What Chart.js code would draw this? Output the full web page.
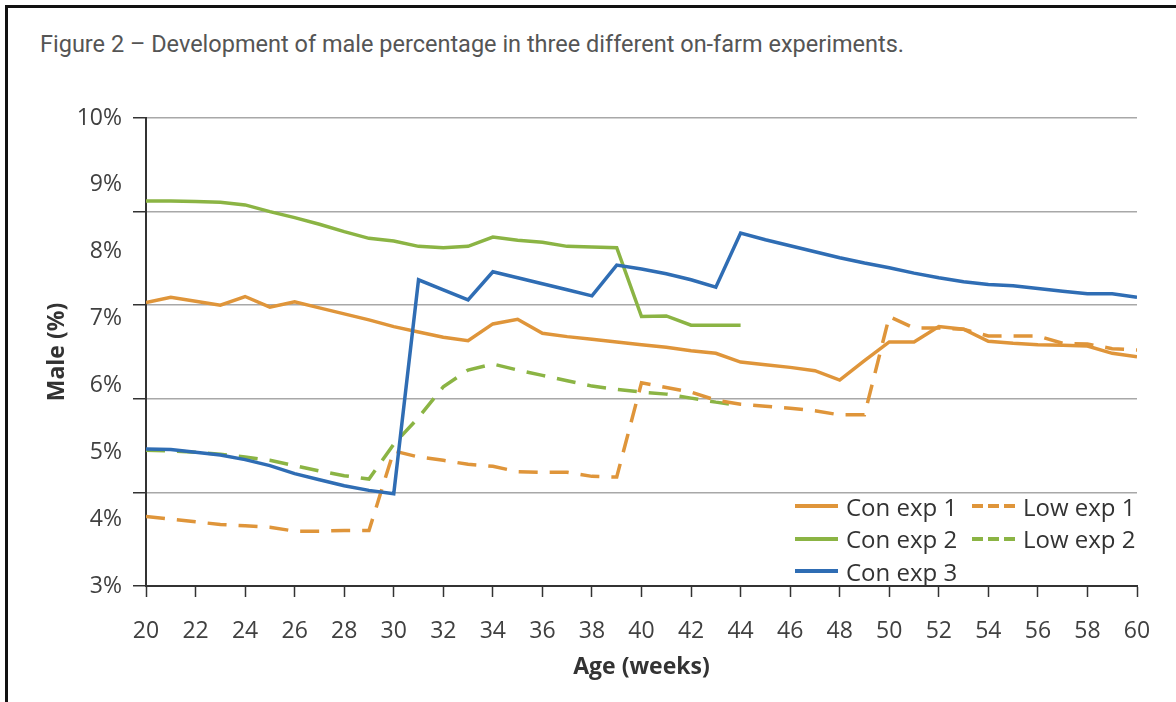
<!DOCTYPE html>
<html>
<head>
<meta charset="utf-8">
<title>Male percentage</title>
<script src="https://cdn.jsdelivr.net/npm/chart.js@4.4.1/dist/chart.umd.min.js"></script>
<style>
  html, body { margin: 0; padding: 0; background: #fff; }
  body { width: 1176px; height: 702px; position: relative; overflow: hidden; }
  #frame { position: absolute; left: 5px; top: 5px; width: 1200px; height: 760px;
           border-left: 3px solid #111; border-top: 3px solid #111; }
  #caption { position: absolute; left: 40px; top: 30px; font-family: Roboto, sans-serif;
             font-size: 23.5px; color: #555; white-space: nowrap; }
  #chart { position: absolute; left: 0; top: 0; }
  #legend { position: absolute; left: 795px; top: 490px; display: grid;
            grid-template-columns: 177px auto; font-family: 'Open Sans', sans-serif;
            font-size: 24px; color: #333; }
  .item { display: flex; align-items: center; height: 32.5px; white-space: nowrap; }
  .item svg { margin-right: 8px; }
</style>
</head>
<body>
<div id="frame"></div>
<div id="caption">Figure 2 – Development of male percentage in three different on-farm experiments.</div>
<canvas id="chart" width="1176" height="702"></canvas>
<div id="legend"></div>
<script>
// age in weeks
const weeks = [20, 21, 22, 23, 24, 25, 26, 27, 28, 29, 30, 31, 32, 33, 34, 35, 36, 37, 38, 39, 40,
  41, 42, 43, 44, 45, 46, 47, 48, 49, 50, 51, 52, 53, 54, 55, 56, 57, 58, 59, 60];

// male % per week (experiment 2 stops at week 44)
const conExp1 = [7.24, 7.32, 7.26, 7.20, 7.33, 7.17, 7.25, 7.16, 7.07, 6.98, 6.88, 6.80, 6.72, 6.67,
  6.92, 6.99, 6.78, 6.73, 6.69, 6.65, 6.61, 6.57, 6.52, 6.48, 6.35, 6.31, 6.27, 6.22, 6.08, 6.37,
  6.65, 6.65, 6.88, 6.84, 6.66, 6.63, 6.61, 6.60, 6.59, 6.48, 6.43];
const lowExp1 = [4.04, 4.00, 3.96, 3.92, 3.90, 3.88, 3.82, 3.82, 3.83, 3.83, 5.02, 4.93, 4.88, 4.82,
  4.79, 4.71, 4.70, 4.70, 4.64, 4.63, 6.04, 5.97, 5.90, 5.78, 5.72, 5.69, 5.66, 5.62, 5.56, 5.56,
  7.03, 6.86, 6.86, 6.84, 6.74, 6.74, 6.74, 6.63, 6.62, 6.55, 6.53];
const conExp2 = [8.76, 8.76, 8.75, 8.74, 8.70, 8.60, 8.51, 8.41, 8.30, 8.20, 8.16, 8.08, 8.06, 8.08,
  8.22, 8.17, 8.14, 8.08, 8.07, 8.06, 7.03, 7.04, 6.90, 6.90, 6.90];
const lowExp2 = [5.03, 5.02, 5.00, 4.97, 4.93, 4.88, 4.80, 4.72, 4.65, 4.60, 5.12, 5.52, 5.98, 6.23,
  6.32, 6.23, 6.15, 6.07, 5.99, 5.94, 5.90, 5.87, 5.81, 5.75, 5.70];
const conExp3 = [5.05, 5.04, 5.00, 4.96, 4.89, 4.80, 4.68, 4.59, 4.50, 4.43, 4.38, 7.58, 7.43, 7.28,
  7.70, 7.61, 7.52, 7.43, 7.34, 7.80, 7.74, 7.67, 7.58, 7.47, 8.28, 8.18, 8.09, 8.00, 7.91, 7.83,
  7.76, 7.68, 7.61, 7.55, 7.51, 7.49, 7.45, 7.41, 7.37, 7.37, 7.32];

const seriesNames = ['Con exp 1', 'Low exp 1', 'Con exp 2', 'Low exp 2', 'Con exp 3'];

const ORANGE = '#df953a';
const GREEN = '#8bb444';
const BLUE = '#2f6db4';
const DASH = [19, 12];

function points(values) {
  return values.map((v, i) => ({ x: weeks[i], y: v }));
}

function line(label, values, color, dashed, order) {
  return {
    label,
    data: points(values),
    borderColor: color,
    backgroundColor: color,
    borderWidth: 3.5,
    borderDash: dashed ? DASH : [],
    pointRadius: 0,
    tension: 0,
    order
  };
}

const font = 'Open Sans';
const tickColor = '#404040';

const chart = new Chart(document.getElementById('chart'), {
  type: 'line',
  data: {
    datasets: [
      line(seriesNames[0], conExp1, ORANGE, false, 2),
      line(seriesNames[1], lowExp1, ORANGE, true, 1),
      line(seriesNames[2], conExp2, GREEN, false, 4),
      line(seriesNames[3], lowExp2, GREEN, true, 3),
      line(seriesNames[4], conExp3, BLUE, false, 0)
    ]
  },
  options: {
    responsive: false,
    animation: false,
    devicePixelRatio: 1,
    layout: { padding: { left: 0, right: 39, top: 118, bottom: 0 } },
    plugins: {
      legend: { display: false },
      tooltip: { enabled: false }
    },
    scales: {
      x: {
        type: 'linear',
        min: 20,
        max: 60,
        ticks: { stepSize: 2, autoSkip: false, maxRotation: 0, padding: 21,
                 color: tickColor, font: { family: font, size: 23 } },
        grid: { drawOnChartArea: false, tickLength: 11, tickColor: '#333', tickWidth: 1.5 },
        border: { color: '#333', width: 2 },
        title: { display: true, text: 'Age (weeks)', color: '#333',
                 font: { family: font, size: 23, weight: 'bold' }, padding: { top: 0, bottom: 21 } },
        afterFit: s => { s.height = 116; }
      },
      y: {
        type: 'linear',
        position: 'left',
        weight: 1,
        min: 3,
        max: 10,
        ticks: { stepSize: 1, padding: 24, color: tickColor,
                 font: { family: font, size: 23 }, callback: v => v + '%' },
        grid: { display: false, drawTicks: false },
        border: { display: true, color: '#333', width: 2 },
        title: { display: true, text: 'Male (%)', color: '#333',
                 font: { family: font, size: 23, weight: 'bold' }, padding: { top: 44, bottom: 0 } },
        afterFit: s => { s.width = 146; }
      },
      grid5: {
        type: 'linear',
        position: 'left',
        weight: 0,
        min: 3,
        max: 10,
        ticks: { display: false },
        // five equal bands across the value range
        afterBuildTicks: s => {
          const n = 5;
          s.ticks = Array.from({ length: n + 1 }, (_, i) => ({ value: s.min + (s.max - s.min) * i / n }));
        },
        grid: { color: '#a8a8a8', lineWidth: 1.5, tickLength: 13, tickColor: '#333', tickWidth: 1.5 },
        border: { display: false },
        afterFit: s => { s.width = 0; }
      }
    }
  }
});

// legend as html, two columns
const legend = document.getElementById('legend');
chart.data.datasets.forEach(ds => {
  const item = document.createElement('div');
  item.className = 'item';
  const dash = ds.borderDash.length ? 'stroke-dasharray="11 5"' : '';
  item.innerHTML =
    '<svg width="43" height="8"><line x1="0" y1="4" x2="43" y2="4" stroke="' + ds.borderColor +
    '" stroke-width="4" ' + dash + '/></svg><span>' + ds.label + '</span>';
  legend.appendChild(item);
});
</script>
</body>
</html>
